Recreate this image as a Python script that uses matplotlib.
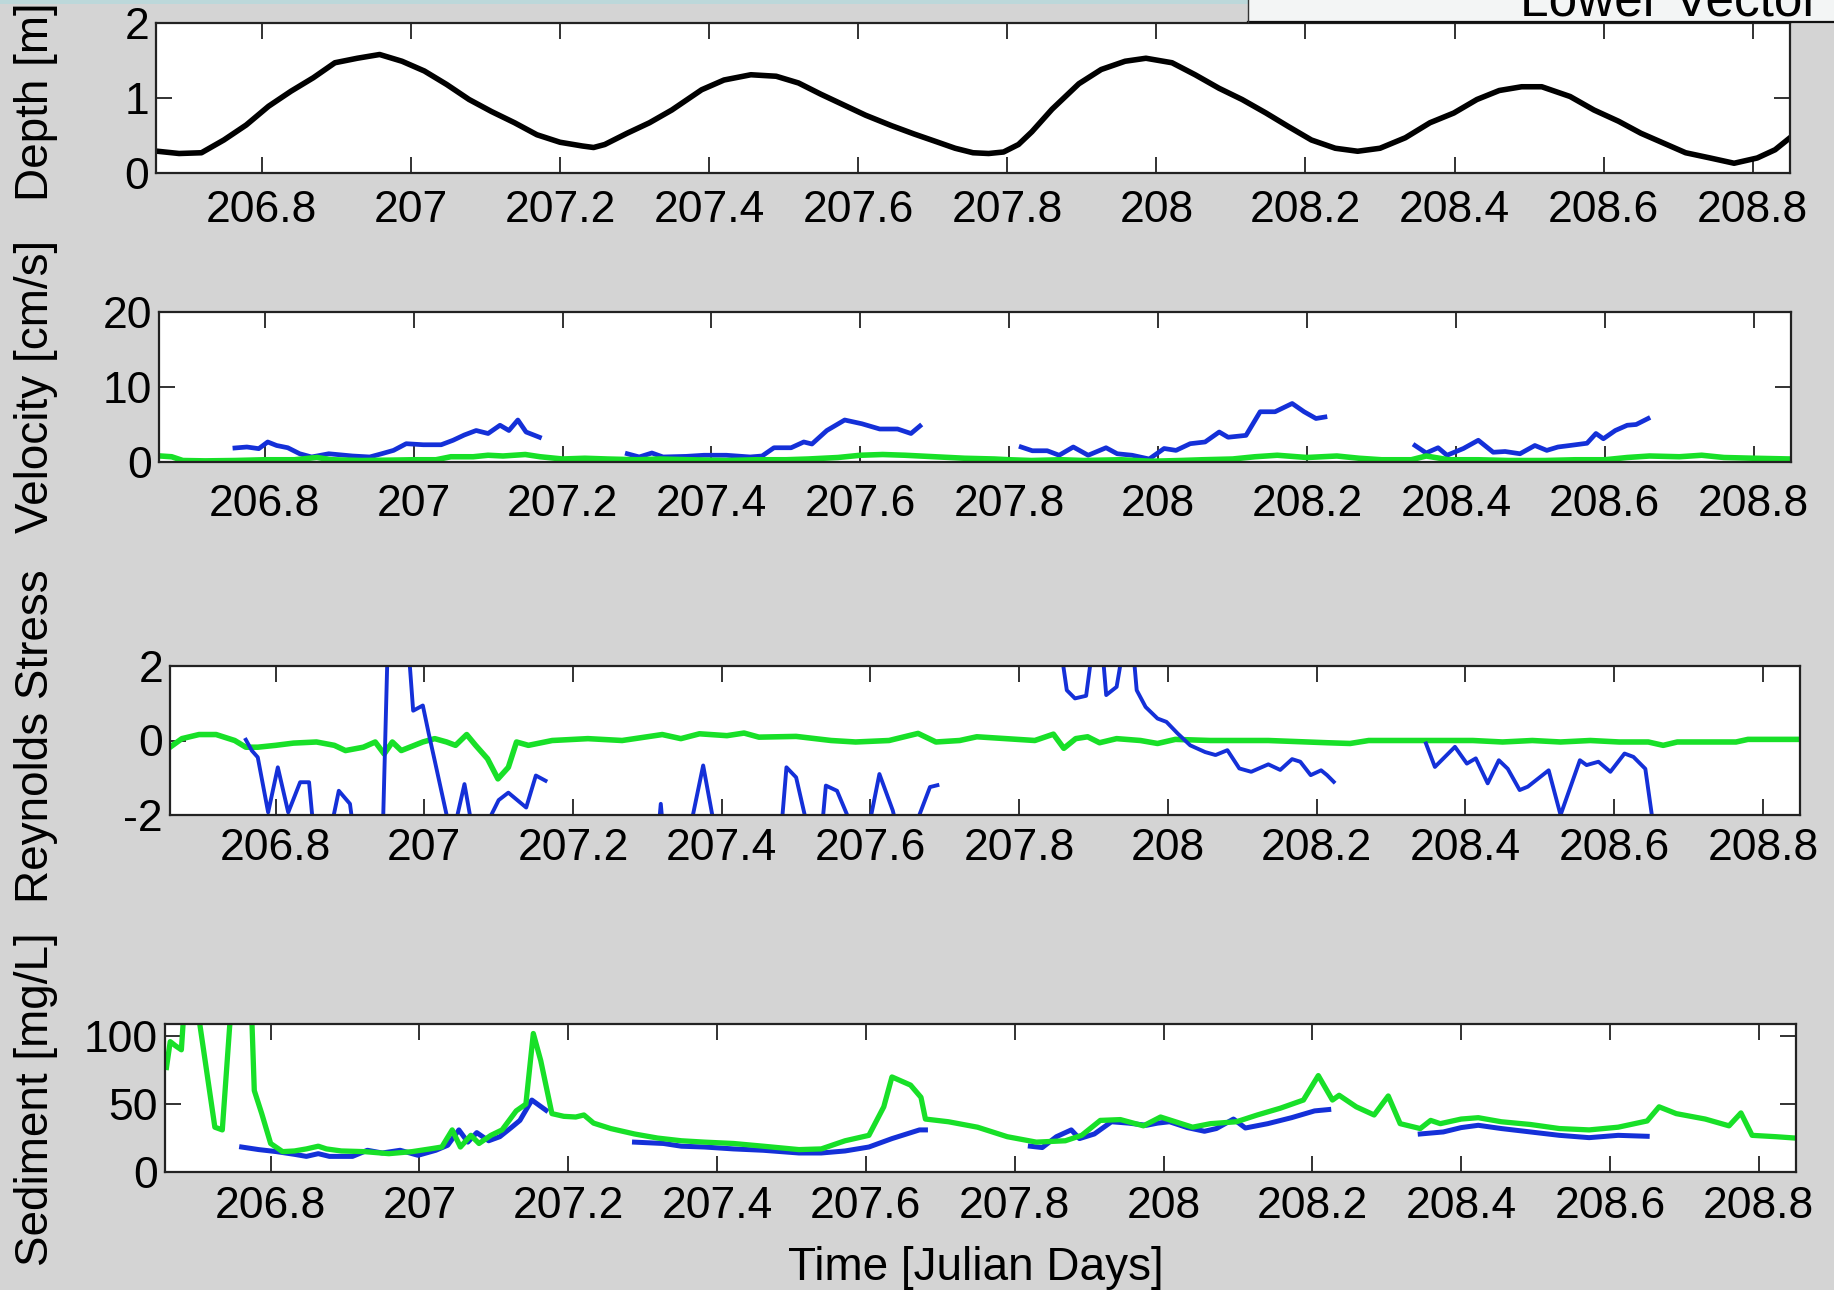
import numpy as np
import matplotlib
matplotlib.use("Agg")
import matplotlib.pyplot as plt
from matplotlib.patches import Rectangle
from matplotlib.lines import Line2D

plt.rcParams['font.family'] = ['Liberation Sans', 'DejaVu Sans']

nan = np.nan

# ---------------- data ----------------
depth_t = [206.66, 206.689, 206.719, 206.749, 206.779, 206.809, 206.839, 206.869, 206.898, 206.928,
           206.958, 206.988, 207.018, 207.048, 207.078, 207.108, 207.139, 207.169, 207.2, 207.23,
           207.245, 207.26, 207.29, 207.32, 207.35, 207.39, 207.42, 207.456, 207.49, 207.52,
           207.55, 207.58, 207.61, 207.645, 207.675, 207.707, 207.73, 207.754, 207.775, 207.795,
           207.815, 207.833, 207.86, 207.896, 207.926, 207.958, 207.986, 208.021, 208.052, 208.084,
           208.115, 208.147, 208.177, 208.208, 208.24, 208.27, 208.3, 208.334, 208.367, 208.399,
           208.43, 208.46, 208.49, 208.517, 208.555, 208.587, 208.62, 208.65, 208.68, 208.71,
           208.743, 208.775, 208.806, 208.83, 208.85]
depth_v = [0.29, 0.26, 0.27, 0.44, 0.64, 0.89, 1.09, 1.27, 1.47, 1.53,
           1.58, 1.49, 1.36, 1.18, 0.98, 0.82, 0.67, 0.51, 0.41, 0.36,
           0.34, 0.38, 0.53, 0.67, 0.84, 1.11, 1.24, 1.31, 1.29, 1.20,
           1.05, 0.91, 0.77, 0.63, 0.52, 0.41, 0.33, 0.27, 0.26, 0.28,
           0.38, 0.55, 0.85, 1.19, 1.38, 1.49, 1.53, 1.47, 1.31, 1.13,
           0.98, 0.80, 0.62, 0.44, 0.33, 0.29, 0.33, 0.47, 0.67, 0.80,
           0.98, 1.10, 1.15, 1.15, 1.02, 0.84, 0.69, 0.53, 0.40, 0.27,
           0.20, 0.13, 0.20, 0.31, 0.47]

vel_blue_t = [206.76, 206.776, 206.792, 206.804, 206.816, 206.831, 206.847, 206.863, 206.886, 206.918,
              206.941, 206.957, 206.973, 206.99, 207.013, 207.037, 207.053, 207.068, 207.084, 207.1,
              207.116, 207.128, 207.14, 207.151, 207.169, nan,
              207.287, 207.303, 207.32, 207.335, 207.366, 207.39, 207.42, 207.452, 207.468, 207.484,
              207.507, 207.524, 207.535, 207.555, 207.579, 207.602, 207.626, 207.65, 207.668, 207.68, nan,
              207.816, 207.831, 207.851, 207.867, 207.886, 207.906, 207.93, 207.945, 207.965, 207.988,
              208.008, 208.024, 208.043, 208.063, 208.082, 208.094, 208.118, 208.137, 208.157, 208.18,
              208.196, 208.212, 208.224, nan,
              208.345, 208.36, 208.376, 208.388, 208.41, 208.43, 208.45, 208.466, 208.486, 208.506,
              208.522, 208.537, 208.553, 208.576, 208.588, 208.598, 208.614, 208.63, 208.642, 208.658]
vel_blue_v = [1.87, 2.0, 1.78, 2.67, 2.2, 1.9, 1.1, 0.67, 1.1, 0.8,
              0.67, 1.1, 1.55, 2.44, 2.3, 2.3, 2.9, 3.6, 4.2, 3.8,
              4.9, 4.2, 5.6, 4.0, 3.3, nan,
              1.1, 0.67, 1.2, 0.67, 0.75, 0.9, 0.9, 0.67, 0.8, 1.9,
              1.9, 2.67, 2.4, 4.2, 5.6, 5.1, 4.4, 4.4, 3.8, 4.8, nan,
              2.0, 1.5, 1.5, 0.9, 2.0, 0.9, 1.9, 1.1, 0.9, 0.4,
              1.8, 1.55, 2.44, 2.67, 4.0, 3.3, 3.55, 6.7, 6.7, 7.8,
              6.7, 5.8, 6.0, nan,
              2.2, 1.2, 1.9, 0.9, 1.8, 2.9, 1.3, 1.4, 1.1, 2.2,
              1.55, 2.0, 2.2, 2.5, 3.8, 3.1, 4.2, 4.9, 5.0, 5.8]

vel_green_t = [206.66, 206.675, 206.69, 206.72, 206.76, 206.8, 206.84, 206.87, 206.89, 206.93,
               206.97, 207.0, 207.03, 207.05, 207.08, 207.1, 207.12, 207.15, 207.17, 207.2,
               207.23, 207.26, 207.3, 207.33, 207.37, 207.42, 207.46, 207.5, 207.53, 207.57,
               207.6, 207.63, 207.66, 207.7, 207.74, 207.78, 207.8, 207.83, 207.87, 207.9,
               207.95, 207.99, 208.03, 208.06, 208.1, 208.13, 208.16, 208.2, 208.24, 208.27,
               208.3, 208.34, 208.36, 208.39, 208.43, 208.47, 208.52, 208.56, 208.6, 208.63,
               208.66, 208.7, 208.73, 208.76, 208.8, 208.85]
vel_green_v = [0.8, 0.7, 0.2, 0.15, 0.2, 0.3, 0.3, 0.6, 0.3, 0.2,
               0.25, 0.3, 0.3, 0.7, 0.7, 0.9, 0.8, 1.0, 0.7, 0.4,
               0.5, 0.4, 0.3, 0.4, 0.3, 0.2, 0.3, 0.3, 0.4, 0.6,
               0.9, 1.0, 0.9, 0.7, 0.5, 0.4, 0.3, 0.2, 0.3, 0.2,
               0.3, 0.1, 0.2, 0.3, 0.4, 0.7, 0.9, 0.6, 0.8, 0.5,
               0.3, 0.3, 0.8, 0.3, 0.3, 0.2, 0.2, 0.3, 0.3, 0.6,
               0.8, 0.7, 0.9, 0.6, 0.5, 0.4]

rs_green_t = [206.658, 206.674, 206.697, 206.72, 206.745, 206.76, 206.776, 206.8, 206.824, 206.855,
              206.879, 206.894, 206.918, 206.934, 206.946, 206.957, 206.969, 206.998, 207.014, 207.03,
              207.042, 207.057, 207.069, 207.085, 207.099, 207.113, 207.124, 207.14, 207.172, 207.22,
              207.266, 207.32, 207.345, 207.37, 207.407, 207.43, 207.45, 207.5, 207.547, 207.58,
              207.625, 207.664, 207.688, 207.72, 207.743, 207.782, 207.821, 207.846, 207.86, 207.876,
              207.892, 207.908, 207.931, 207.963, 207.986, 208.01, 208.057, 208.135, 208.214, 208.245,
              208.27, 208.332, 208.371, 208.41, 208.45, 208.49, 208.528, 208.568, 208.607, 208.646,
              208.666, 208.685, 208.764, 208.78, 208.85]
rs_green_v = [-0.18, 0.05, 0.16, 0.16, 0.0, -0.18, -0.18, -0.13, -0.07, -0.04,
              -0.13, -0.27, -0.18, -0.04, -0.36, -0.04, -0.27, -0.04, 0.05, -0.04,
              -0.13, 0.16, -0.13, -0.49, -1.03, -0.72, -0.04, -0.13, 0.0, 0.05,
              0.0, 0.16, 0.05, 0.18, 0.13, 0.2, 0.09, 0.11, 0.0, -0.04,
              0.0, 0.19, -0.04, 0.0, 0.1, 0.05, 0.0, 0.17, -0.21, 0.05,
              0.1, -0.06, 0.05, 0.0, -0.08, 0.03, 0.0, 0.0, -0.06, -0.08,
              0.0, 0.0, 0.0, 0.0, -0.04, 0.0, -0.04, 0.0, -0.04, -0.04,
              -0.13, -0.04, -0.04, 0.03, 0.03]

rs_blue_t = [206.76, 206.768, 206.776, 206.79, 206.803, 206.817, 206.833, 206.845, 206.852, 206.872,
             206.885, 206.9, 206.906, 206.944, 206.952, 206.975, 206.985, 206.998, 207.006, 207.014,
             207.03, 207.04, 207.054, 207.064, 207.085, 207.09, 207.1, 207.113, 207.137, 207.15,
             207.163, nan,
             207.314, 207.318, 207.322, 207.355, 207.375, 207.39, 207.48, 207.487, 207.5, 207.515,
             207.535, 207.54, 207.555, 207.575, 207.598, 207.612, 207.63, 207.635, 207.66, 207.68,
             207.69, nan,
             207.855, 207.864, 207.875, 207.89, 207.898, 207.912, 207.917, 207.931, 207.94, 207.953,
             207.958, 207.97, 207.986, 207.998, 208.013, 208.03, 208.05, 208.064, 208.08, 208.096,
             208.112, 208.135, 208.151, 208.167, 208.178, 208.192, 208.206, 208.214, 208.223, nan,
             208.347, 208.359, 208.386, 208.402, 208.414, 208.43, 208.445, 208.457, 208.473, 208.484,
             208.512, 208.528, 208.554, 208.563, 208.579, 208.595, 208.614, 208.626, 208.642, 208.655]
rs_blue_v = [0.02, -0.27, -0.45, -1.93, -0.72, -1.93, -1.12, -1.12, -2.6, -2.6,
             -1.35, -1.7, -2.6, -2.6, 3.5, 3.5, 0.8, 0.94, 0.18, -0.54,
             -2.0, -2.4, -1.17, -2.3, -2.3, -2.0, -1.6, -1.4, -1.8, -0.94,
             -1.08, nan,
             -2.6, -1.7, -2.6, -2.6, -0.67, -2.3, -2.4, -0.72, -0.99, -2.3,
             -2.3, -1.21, -1.35, -2.3, -2.3, -0.9, -1.88, -2.3, -2.3, -1.25,
             -1.2, nan,
             2.6, 1.35, 1.13, 1.2, 2.4, 2.4, 1.22, 1.44, 2.5, 2.5,
             1.35, 0.9, 0.59, 0.5, 0.19, -0.13, -0.31, -0.39, -0.26, -0.75,
             -0.84, -0.64, -0.79, -0.5, -0.57, -0.93, -0.8, -0.93, -1.11, nan,
             -0.08, -0.71, -0.17, -0.62, -0.48, -1.15, -0.53, -0.76, -1.33, -1.24,
             -0.8, -2.0, -0.53, -0.66, -0.57, -0.84, -0.35, -0.44, -0.76, -2.6]

sed_green_t = [206.66, 206.665, 206.672, 206.68, 206.686, 206.7, 206.705, 206.725, 206.735, 206.745,
               206.755, 206.77, 206.775, 206.778, 206.788, 206.8, 206.816, 206.832, 206.848, 206.864,
               206.875, 206.895, 206.926, 206.959, 206.99, 207.014, 207.03, 207.044, 207.055, 207.069,
               207.08, 207.096, 207.111, 207.13, 207.143, 207.153, 207.163, 207.178, 207.194, 207.21,
               207.221, 207.234, 207.257, 207.289, 207.32, 207.352, 207.383, 207.422, 207.462, 207.51,
               207.54, 207.572, 207.604, 207.624, 207.635, 207.66, 207.674, 207.68, 207.711, 207.75,
               207.79, 207.829, 207.868, 207.89, 207.915, 207.942, 207.973, 207.996, 208.016, 208.039,
               208.063, 208.098, 208.126, 208.157, 208.188, 208.208, 208.227, 208.236, 208.259, 208.283,
               208.302, 208.318, 208.345, 208.359, 208.372, 208.4, 208.423, 208.454, 208.493, 208.532,
               208.572, 208.611, 208.65, 208.666, 208.689, 208.728, 208.76, 208.776, 208.791, 208.823,
               208.849]
sed_green_v = [77, 96, 93, 90, 140, 140, 108, 33, 31, 108,
               140, 140, 108, 60, 43, 21, 15, 15.5, 17, 19,
               17, 15.5, 15, 13.5, 15, 17, 18.4, 31, 18.4, 27,
               21, 27, 31, 45, 50, 102, 82, 43, 41, 40.5,
               42, 36, 32, 28, 25, 23, 22, 21, 19, 16.5,
               17, 23, 27, 48, 70, 64, 55, 39, 37, 33,
               26, 22, 23, 27, 38, 38.6, 34, 40.5, 37, 33,
               35.6, 37, 42, 47, 53, 71, 53, 56.5, 48, 42,
               56, 35.6, 32, 38, 35.6, 39, 40, 37, 35, 32,
               31, 33, 37.6, 48, 43, 39, 34, 43.5, 27, 26,
               25]

sed_blue_t = [206.761, 206.784, 206.808, 206.832, 206.848, 206.864, 206.879, 206.91, 206.93, 206.95,
              206.974, 206.998, 207.022, 207.038, 207.053, 207.065, 207.077, 207.093, 207.108, 207.124,
              207.135, 207.151, 207.17, nan,
              207.289, 207.328, 207.352, 207.383, 207.422, 207.462, 207.51, 207.54, 207.572, 207.604,
              207.635, 207.672, 207.68, nan,
              207.821, 207.837, 207.856, 207.876, 207.887, 207.907, 207.93, 207.953, 207.977, 207.992,
              208.008, 208.032, 208.055, 208.071, 208.094, 208.11, 208.14, 208.172, 208.203, 208.222, nan,
              208.345, 208.376, 208.4, 208.423, 208.454, 208.493, 208.532, 208.572, 208.611, 208.65]
sed_blue_v = [18.4, 16.5, 15, 13, 11.5, 13.5, 11.5, 11.5, 16, 14,
              16, 12.3, 16, 19.7, 31, 22, 29, 23, 26, 33,
              38, 53, 45.5, nan,
              22, 21, 19, 18.4, 17, 16, 14, 14, 15.5, 18.4,
              24.6, 31, 31, nan,
              19, 18, 26, 31, 24.6, 28, 37, 36, 34.4, 36,
              37, 32.7, 30, 32, 39, 32.4, 35.6, 40, 45, 46, nan,
              28, 29.5, 32.7, 34.4, 32, 29.5, 27, 25.3, 27, 26.3]

x_ticks = [206.8, 207.0, 207.2, 207.4, 207.6, 207.8, 208.0, 208.2, 208.4, 208.6, 208.8]
x_ticklabels = ['206.8', '207', '207.2', '207.4', '207.6', '207.8', '208', '208.2', '208.4', '208.6', '208.8']
y_labels = ['Depth [m]', 'Velocity [cm/s]', 'Reynolds Stress', 'Sediment [mg/L]']
y_ticks = [[0, 1, 2], [0, 10, 20], [-2, 0, 2], [0, 50, 100]]
y_lims = [(0, 2), (0, 20), (-2, 2), (0, 109)]
x_label = 'Time [Julian Days]'
corner_text = 'Lower Vector'

# ---------------- styling / layout ----------------
W, H = 1834, 1290
BG = '#d4d4d4'
BLUE = '#1430d8'
GREEN = '#18e028'
TICK_FS = 32
LAB_FS = 33

fig = plt.figure(figsize=(W / 100, H / 100), dpi=100, facecolor=BG)

# axes boxes in pixels: left, right, top, bottom
boxes = [(156, 1790, 23, 173), (159, 1791, 312, 462), (170, 1800, 666, 815), (165, 1796, 1024, 1172)]
label_y = [102, 386, 736, 1099]
x_pads = [12, 16, 9.5, 10]

axes = []
for i, (l, r, t, b) in enumerate(boxes):
    ax = fig.add_axes([l / W, 1 - b / H, (r - l) / W, (b - t) / H])
    ax.set_facecolor('white')
    ax.set_xlim(206.658, 208.85)
    ax.set_ylim(*y_lims[i])
    ax.set_xticks(x_ticks)
    ax.set_xticklabels(x_ticklabels)
    ax.set_yticks(y_ticks[i])
    ax.set_yticklabels([str(v) for v in y_ticks[i]])
    ax.tick_params(direction='in', length=11.5, width=1.3, top=True, right=True,
                   labelsize=TICK_FS, color='#222222')
    ax.tick_params(axis='x', pad=x_pads[i])
    ax.tick_params(axis='y', pad=5)
    for s in ax.spines.values():
        s.set_linewidth(1.6)
        s.set_color('#222222')
    ax.set_ylabel(y_labels[i], fontsize=LAB_FS)
    ax.yaxis.set_label_coords(58 / W, 1 - label_y[i] / H, transform=fig.transFigure)
    axes.append(ax)

ax1, ax2, ax3, ax4 = axes
ax1.plot(depth_t, depth_v, color='black', lw=4.0)

ax2.plot(vel_blue_t, vel_blue_v, color=BLUE, lw=3.4)
ax2.plot(vel_green_t, vel_green_v, color=GREEN, lw=4.0)

ax3.plot(rs_green_t, rs_green_v, color=GREEN, lw=4.0)
ax3.plot(rs_blue_t, rs_blue_v, color=BLUE, lw=2.8)

ax4.plot(sed_blue_t, sed_blue_v, color=BLUE, lw=3.6)
ax4.plot(sed_green_t, sed_green_v, color=GREEN, lw=3.8)

ax4.set_xlabel(x_label, fontsize=LAB_FS)
ax4.xaxis.set_label_coords(976 / W, 1 - 1246 / H, transform=fig.transFigure)

# window decoration at top: teal strip and partial "Lower Vector" box
fig.patches.append(Rectangle((0, 1 - 4 / H), 1248 / W, 4 / H, transform=fig.transFigure,
                             facecolor='#bcd8da', edgecolor='none', zorder=0))
fig.patches.append(Rectangle((1248 / W, 1 - 22 / H), 1 - 1248 / W + 0.01, 22 / H + 0.01,
                             transform=fig.transFigure, facecolor='#f3f5f5', edgecolor='none', zorder=0))
fig.lines.append(Line2D([1248 / W, 1.0], [1 - 22 / H, 1 - 22 / H], transform=fig.transFigure,
                        color='#111111', lw=1.6))
fig.lines.append(Line2D([1248 / W, 1248 / W], [1 - 22 / H, 1.0], transform=fig.transFigure,
                        color='#333333', lw=1.0))
fig.text(1520 / W, 1 - 15 / H, corner_text, fontsize=37, ha='left', va='baseline', color='black')

fig.savefig('out.png', dpi=100, facecolor=BG)
